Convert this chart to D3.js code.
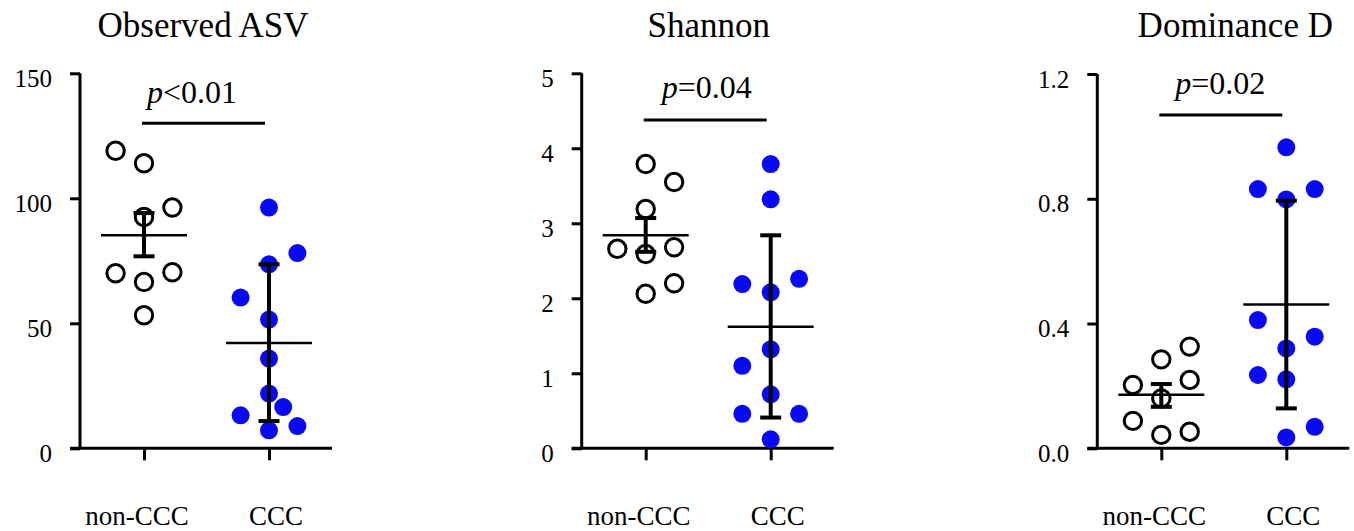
<!DOCTYPE html>
<html>
<head>
<meta charset="utf-8">
<script src="https://cdn.jsdelivr.net/npm/d3@7"></script>
<style>
  html, body { margin: 0; padding: 0; background: #fff; }
  svg { display: block; }
</style>
</head>
<body>
<svg id="chart" width="1354" height="531" font-family="Liberation Serif, Times New Roman, serif"></svg>
<script>
// ---- data ----
const groups = ["non-CCC", "CCC"];
const panelTitles = ["Observed ASV", "Shannon", "Dominance D"];
const pSigns = ["<", "=", "="];
const pValues = ["0.01", "0.04", "0.02"];

const asvTicks = [0, 50, 100, 150];
const shannonTicks = [0, 1, 2, 3, 4, 5];
const dominanceTicks = [0, 0.4, 0.8, 1.2];

// Observed ASV per sample
const asvNonCCC = [119, 114, 96.3, 92.5, 70, 70.4, 66.5, 53.2];
const asvCCC = [96.3, 78.1, 73.6, 60.3, 51.5, 35.9, 21.9, 16.5, 13.2, 8.9, 7.2];
const asvMean = [85.2, 42.1];
const asvErrLow = [76.8, 10.9];
const asvErrHigh = [94.1, 73.6];

// Shannon index per sample
const shannonNonCCC = [3.79, 3.55, 3.19, 2.66, 2.68, 2.59, 2.20, 2.06];
const shannonCCC = [3.79, 3.32, 2.19, 2.26, 2.08, 1.32, 1.10, 0.72, 0.46, 0.46, 0.12];
const shannonMean = [2.84, 1.62];
const shannonErrLow = [2.62, 0.41];
const shannonErrHigh = [3.07, 2.84];

// Dominance D per sample
const dominanceNonCCC = [0.326, 0.285, 0.203, 0.219, 0.160, 0.088, 0.053, 0.043];
const dominanceCCC = [0.965, 0.831, 0.831, 0.798, 0.411, 0.358, 0.320, 0.235, 0.221, 0.069, 0.035];
const dominanceMean = [0.172, 0.461];
const dominanceErrLow = [0.133, 0.128];
const dominanceErrHigh = [0.206, 0.794];

// swarm column of each sample (half-steps left/right of the group centre)
const asvSlotsNon = [-2, 0, 2, 0, -2, 2, 0, 0];
const asvSlotsCCC = [0, 2, 0, -2, 0, 0, 0, 1, -2, 2, 0];
const shannonSlotsNon = [0, 2, 0, -2, 2, 0, 2, 0];
const shannonSlotsCCC = [0, 0, -2, 2, 0, 0, -2, 0, -2, 2, 0];
const dominanceSlotsNon = [2, 0, -2, 2, 0, -2, 2, 0];
const dominanceSlotsCCC = [0, -2, 2, 0, -2, 2, 0, -2, 0, 2, 0];

// ---- layout ----
const SERIF = "Liberation Serif, Times New Roman, serif";
const panels = [
  { title: panelTitles[0], ticks: asvTicks, fmt: d3.format("d"),
    values: [asvNonCCC, asvCCC], slots: [asvSlotsNon, asvSlotsCCC],
    mean: asvMean, lo: asvErrLow, hi: asvErrHigh,
    left: 80, top: 73.3, titleDx: 123, pDx: 112, sigY: 123.3, pY: 103 },
  { title: panelTitles[1], ticks: shannonTicks, fmt: d3.format("d"),
    values: [shannonNonCCC, shannonCCC], slots: [shannonSlotsNon, shannonSlotsCCC],
    mean: shannonMean, lo: shannonErrLow, hi: shannonErrHigh,
    left: 581.7, top: 73.3, titleDx: 127, pDx: 125, sigY: 120, pY: 97.5 },
  { title: panelTitles[2], ticks: dominanceTicks, fmt: d3.format(".1f"),
    values: [dominanceNonCCC, dominanceCCC], slots: [dominanceSlotsNon, dominanceSlotsCCC],
    mean: dominanceMean, lo: dominanceErrLow, hi: dominanceErrHigh,
    left: 1097.3, top: 74, titleDx: 138, pDx: 123, sigY: 115, pY: 93.5 }
];

const bottom = 448.3;
const plotW = 252;
const slotStep = 14.2;
const blue = "#0a0af0";

const svg = d3.select("#chart");

panels.forEach((p, pi) => {
  const g = svg.append("g").attr("transform", `translate(${p.left},0)`);

  const y = d3.scaleLinear()
    .domain([0, d3.max(p.ticks)])
    .range([bottom, p.top]);
  const x = d3.scalePoint().domain(groups).range([64, 189]);

  // title
  g.append("text")
    .attr("x", p.titleDx).attr("y", 37)
    .attr("text-anchor", "middle")
    .attr("font-family", SERIF)
    .attr("font-size", 35)
    .text(p.title);

  // y axis
  const yAxis = g.append("g")
    .call(d3.axisLeft(y).tickValues(p.ticks).tickFormat(p.fmt)
      .tickSize(10).tickPadding(18).tickSizeOuter(0))
    .attr("font-family", SERIF)
    .attr("font-size", 25);
  yAxis.select(".domain").attr("stroke-width", 3).attr("d", `M0,${p.top}V${bottom}`);
  yAxis.selectAll(".tick line").attr("stroke-width", 3);
  yAxis.selectAll(".tick text")
    .attr("dy", "0.52em")
    .attr("font-family", SERIF)
    .attr("font-size", 25);

  // x axis
  const xAxis = g.append("g")
    .attr("transform", `translate(0,${bottom})`)
    .call(d3.axisBottom(x).tickSize(12).tickFormat(""));
  xAxis.select(".domain").attr("stroke-width", 3).attr("d", `M-10,0H${plotW}`);
  xAxis.selectAll(".tick line").attr("stroke-width", 3);

  g.selectAll(".grp-label")
    .data(groups)
    .join("text")
    .attr("class", "grp-label")
    .attr("x", (d, i) => x(d) + (i === 0 ? -7 : 7))
    .attr("y", 525)
    .attr("text-anchor", "middle")
    .attr("font-family", SERIF)
    .attr("font-size", 27)
    .text(d => d);

  // significance bar and p-value
  g.append("line")
    .attr("x1", x(groups[0]) - 2).attr("x2", x(groups[1]) - 4)
    .attr("y1", p.sigY).attr("y2", p.sigY)
    .attr("stroke", "#000").attr("stroke-width", 3);
  const pt = g.append("text")
    .attr("x", p.pDx).attr("y", p.pY)
    .attr("text-anchor", "middle")
    .attr("font-family", SERIF)
    .attr("font-size", 32);
  pt.append("tspan").attr("font-style", "italic").text("p");
  pt.append("tspan").text(pSigns[pi] + pValues[pi]);

  // samples
  groups.forEach((grp, gi) => {
    const pts = p.values[gi].map((v, k) => ({ v, s: p.slots[gi][k] }));
    const sel = g.append("g").selectAll("circle")
      .data(pts)
      .join("circle")
      .attr("cx", d => x(grp) + d.s * slotStep)
      .attr("cy", d => y(d.v));
    if (gi === 0) {
      sel.attr("r", 8.7).attr("fill", "none").attr("stroke", "#000").attr("stroke-width", 3);
    } else {
      sel.attr("r", 9).attr("fill", blue);
    }
  });

  // mean and error bars
  groups.forEach((grp, gi) => {
    const cx = x(grp);
    const eb = g.append("g").attr("stroke", "#000");
    eb.append("line")
      .attr("x1", cx - 43).attr("x2", cx + 43)
      .attr("y1", y(p.mean[gi])).attr("y2", y(p.mean[gi]))
      .attr("stroke-width", 2.5);
    eb.append("line")
      .attr("x1", cx).attr("x2", cx)
      .attr("y1", y(p.lo[gi])).attr("y2", y(p.hi[gi]))
      .attr("stroke-width", 4);
    [p.lo[gi], p.hi[gi]].forEach(v => {
      eb.append("line")
        .attr("x1", cx - 10.5).attr("x2", cx + 10.5)
        .attr("y1", y(v)).attr("y2", y(v))
        .attr("stroke-width", 4);
    });
  });
});
</script>
</body>
</html>
